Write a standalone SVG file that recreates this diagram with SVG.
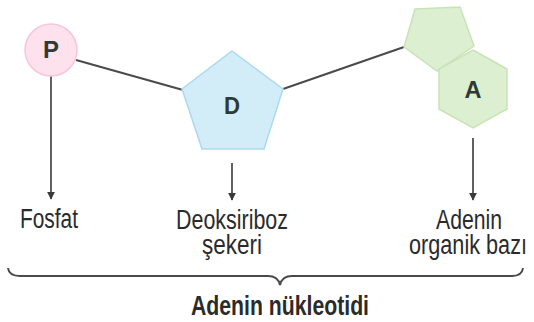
<svg xmlns="http://www.w3.org/2000/svg" width="534" height="322" viewBox="0 0 534 322">
<style>
.ln{stroke:#4a4a4a;stroke-width:2;fill:none}
.ar{stroke:#3a3a3a;stroke-width:1.6;fill:none;marker-end:url(#ah)}
.lbl{font-family:"Liberation Sans",Arial,sans-serif;font-size:27px;fill:#2b2b2b;text-anchor:middle}
.ttl{font-family:"Liberation Sans",Arial,sans-serif;font-size:27px;font-weight:bold;fill:#2b2b2b;text-anchor:middle}
.nl{font-family:"Liberation Sans",Arial,sans-serif;font-size:24px;font-weight:bold;fill:#2f3a36;text-anchor:middle}
</style>
<defs>
<marker id="ah" viewBox="0 0 10 10" refX="9" refY="5" markerWidth="5" markerHeight="6" orient="auto" markerUnits="strokeWidth">
<path d="M0,0 L10,5 L0,10 Z" fill="#3a3a3a"/>
</marker>
</defs>
<g id="connectors">
<line class="ln" x1="76" y1="60" x2="183" y2="90"/>
<line class="ln" x1="283" y1="89" x2="404" y2="47"/>
<line class="ar" x1="51" y1="76" x2="51" y2="199"/>
<line class="ar" x1="232" y1="163" x2="232" y2="200"/>
<line class="ar" x1="473" y1="138" x2="473" y2="200"/>
</g>
<g id="fosfat">
<circle cx="51" cy="50" r="26" fill="#fde2ee" stroke="#f7c6dc" stroke-width="1.5"/>
<text class="nl" x="51" y="58" textLength="16" lengthAdjust="spacingAndGlyphs">P</text>
<text class="lbl" x="49" y="228" textLength="58" lengthAdjust="spacingAndGlyphs">Fosfat</text>
</g>
<g id="seker">
<polygon points="232,51 283,89 264,149 202,149 182,89" fill="#d2ecf8" stroke="#acd9ef" stroke-width="1.5"/>
<text class="nl" x="232" y="114" textLength="16" lengthAdjust="spacingAndGlyphs">D</text>
<text class="lbl" x="232" y="229" textLength="112" lengthAdjust="spacingAndGlyphs">Deoksiriboz</text>
<text class="lbl" x="232" y="254" textLength="60" lengthAdjust="spacingAndGlyphs">şekeri</text>
</g>
<g id="baz">
<polygon points="415,9 460,7 474,46 437,71 404,47" fill="#dcefd0" stroke="#c8e4b6" stroke-width="1.5"/>
<polygon points="473,50 507,69 507,109 473,128 439,109 439,69" fill="#dcefd0" stroke="#c8e4b6" stroke-width="1.5"/>
<text class="nl" x="473" y="98" textLength="17" lengthAdjust="spacingAndGlyphs">A</text>
<text class="lbl" x="469" y="229" textLength="66" lengthAdjust="spacingAndGlyphs">Adenin</text>
<text class="lbl" x="468" y="254" textLength="118" lengthAdjust="spacingAndGlyphs">organik bazı</text>
</g>
<g id="nukleotid">
<path class="ln" d="M8,268 Q9,276 20,276 L268,276 Q278,276 280,285 Q282,276 292,276 L512,276 Q522,276 523,268" stroke-width="1.8"/>
<text class="ttl" x="280" y="315" textLength="178" lengthAdjust="spacingAndGlyphs">Adenin nükleotidi</text>
</g>
</svg>
